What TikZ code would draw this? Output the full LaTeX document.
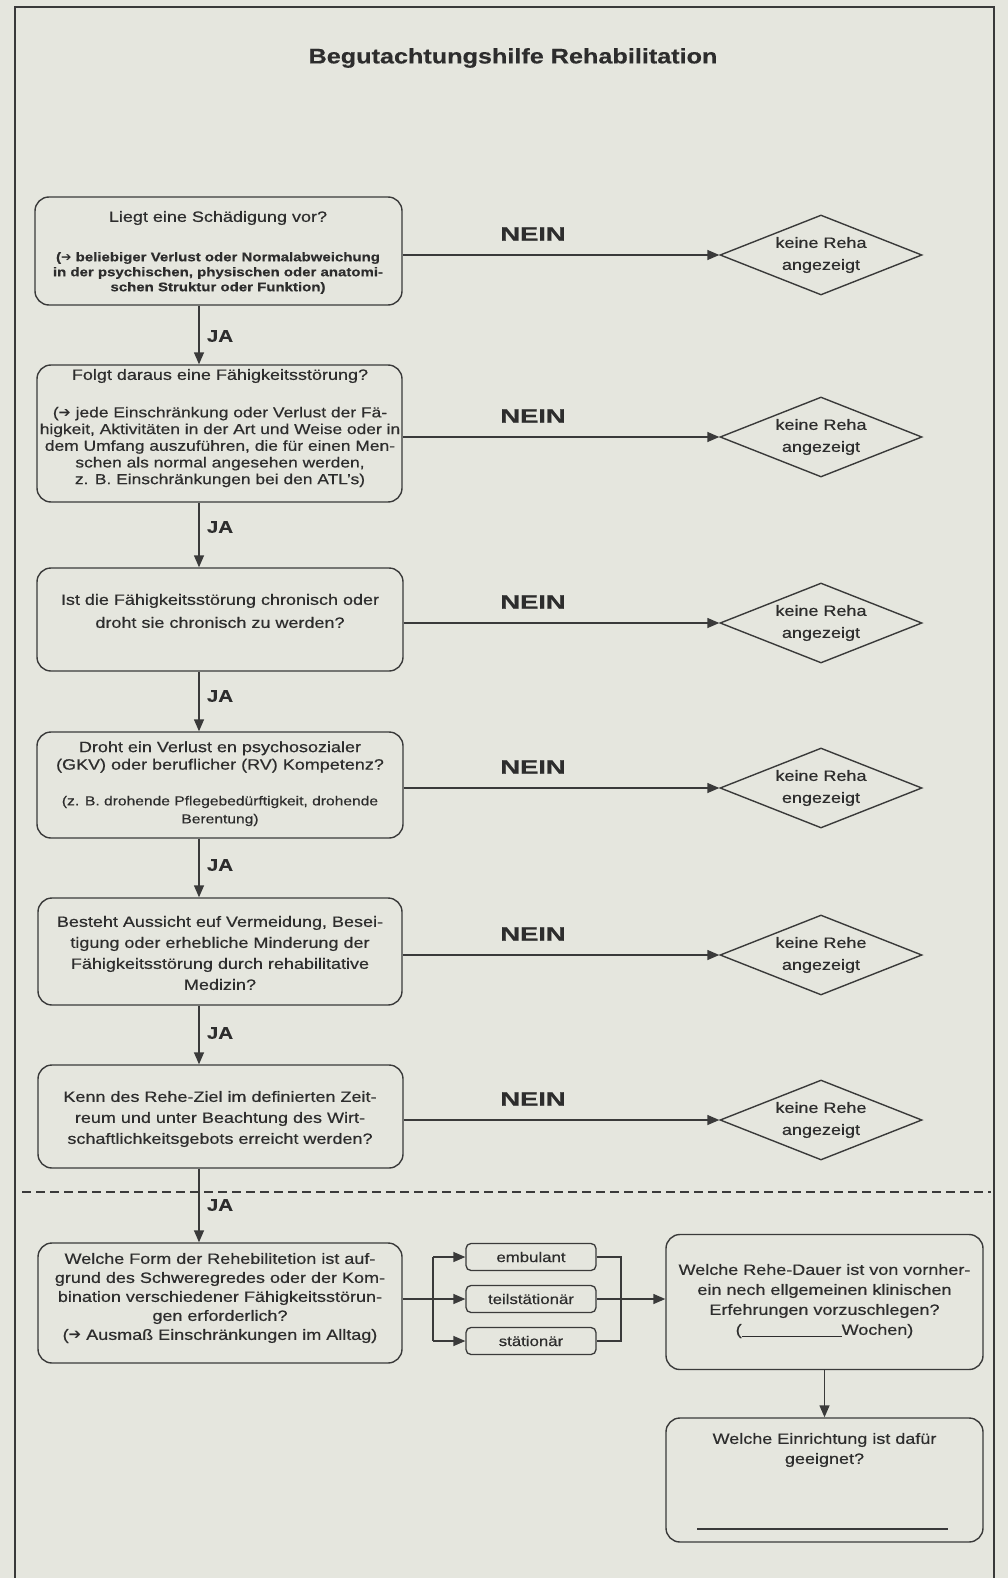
\documentclass[tikz,border=0pt]{standalone}
\usepackage{fontspec}
\setmainfont{Liberation Sans}[FakeStretch=1.2,FakeBold=0.5]
\newfontfamily\widefont{Liberation Sans}[FakeStretch=1.4,FakeBold=0.5]
\newfontfamily\symfont{DejaVu Sans}
\newcommand{\rarr}{{\symfont ➔}}
\usetikzlibrary{arrows.meta,shapes.geometric,calc}
\definecolor{paper}{RGB}{229,230,222}
\definecolor{ink}{RGB}{58,58,58}
\definecolor{txt}{RGB}{45,45,45}
\begin{document}
\begin{tikzpicture}[x=1pt,y=-1pt,
  box/.style={draw=ink, line width=1.4pt, rounded corners=14pt, inner sep=0pt},
  sbox/.style={draw=ink, line width=1.3pt, rounded corners=5pt, inner sep=0pt,
    minimum width=130pt, minimum height=27pt, text=txt, font=\fontsize{14}{16}\selectfont},
  dia/.style={shape=diamond, draw=ink, line width=1.4pt, aspect=2.5, inner sep=0pt,
    minimum width=202pt, minimum height=80pt, align=center, text=txt,
    font=\fontsize{15}{22}\selectfont},
  tx/.style={align=center, text=txt, inner sep=0pt},
  ln/.style={draw=ink, line width=1.4pt},
  arr/.style={draw=ink, line width=1.4pt, -{Triangle[length=12pt,width=10pt]}},
  nein/.style={text=txt, inner sep=0pt, font=\widefont\bfseries\fontsize{19.5}{22}\selectfont},
  ja/.style={text=txt, inner sep=0pt, font=\bfseries\fontsize{17}{20}\selectfont}
]
\useasboundingbox (0,0) rectangle (1008,1578);
\fill[paper] (0,0) rectangle (1008,1578);
\draw[ink, line width=2.5pt] (15,7) rectangle (994,1600);

\node[tx, font=\bfseries\fontsize{21}{24}\selectfont] (title) at (513,58) {Begutachtungshilfe Rehabilitation};

% boxes
\node[box, minimum width=367pt, minimum height=108pt] (b1) at (218.5,251) {};
\node[box, minimum width=365pt, minimum height=137pt] (b2) at (219.5,433.5) {};
\node[box, minimum width=366pt, minimum height=103pt] (b3) at (220,619.5) {};
\node[box, minimum width=366pt, minimum height=106pt] (b4) at (220,785) {};
\node[box, minimum width=364pt, minimum height=107pt] (b5) at (220,951.5) {};
\node[box, minimum width=365pt, minimum height=103pt] (b6) at (220.5,1116.5) {};
\node[box, minimum width=364pt, minimum height=120pt] (b7) at (220,1303) {};

% box texts
\node[tx, font=\fontsize{15}{18}\selectfont] (b1q) at (218,218) {Liegt eine Schädigung vor?};
\node[tx, font=\bfseries\fontsize{12.5}{15}\selectfont] (b1s) at (218,273)
  {(\rarr\ beliebiger Verlust oder Normalabweichung\\in der psychischen, physischen oder anatomi-\\schen Struktur oder Funktion)};
\node[tx, font=\fontsize{15}{18}\selectfont] (b2q) at (220,376) {Folgt daraus eine Fähigkeitsstörung?};
\node[tx, font=\fontsize{14.5}{16.7}\selectfont] (b2s) at (220,447)
  {(\rarr\ jede Einschränkung oder Verlust der Fä-\\higkeit, Aktivitäten in der Art und Weise oder in\\dem Umfang auszuführen, die für einen Men-\\schen als normal angesehen werden,\\z. B. Einschränkungen bei den ATL's)};
\node[tx, font=\fontsize{15}{23}\selectfont] (b3t) at (220,611)
  {Ist die Fähigkeitsstörung chronisch oder\\droht sie chronisch zu werden?};
\node[tx, font=\fontsize{15}{17.5}\selectfont] (b4q) at (220,757)
  {Droht ein Verlust en psychosozialer\\(GKV) oder beruflicher (RV) Kompetenz?};
\node[tx, font=\fontsize{13}{18}\selectfont] (b4s) at (220,811)
  {(z. B. drohende Pflegebedürftigkeit, drohende\\Berentung)};
\node[tx, font=\fontsize{15}{21}\selectfont] (b5t) at (220,953)
  {Besteht Aussicht euf Vermeidung, Besei-\\tigung oder erhebliche Minderung der\\Fähigkeitsstörung durch rehabilitative\\Medizin?};
\node[tx, font=\fontsize{15}{21}\selectfont] (b6t) at (220,1119)
  {Kenn des Rehe-Ziel im definierten Zeit-\\reum und unter Beachtung des Wirt-\\schaftlichkeitsgebots erreicht werden?};
\node[tx, font=\fontsize{15}{19}\selectfont] (b7t) at (220,1298)
  {Welche Form der Rehebilitetion ist auf-\\grund des Schweregredes oder der Kom-\\bination verschiedener Fähigkeitsstörun-\\gen erforderlich?\\(\rarr\ Ausmaß Einschränkungen im Alltag)};

% diamonds
\node[dia] (d1) at (821,255) {keine Reha\\angezeigt};
\node[dia] (d2) at (821,437) {keine Reha\\angezeigt};
\node[dia] (d3) at (821,623) {keine Reha\\angezeigt};
\node[dia] (d4) at (821,788) {keine Reha\\engezeigt};
\node[dia] (d5) at (821,955) {keine Rehe\\angezeigt};
\node[dia] (d6) at (821,1120) {keine Rehe\\angezeigt};

\foreach \i/\y in {1/255,2/437,3/623,4/788,5/955,6/1120}{
  \draw[arr] (d\i.west -| b\i.east) -- (d\i.west);
  \node[nein] (n\i) at (533,\y-21) {NEIN};
}

% JA arrows
\coordinate (ax) at (199,0);
\draw[arr] (b1.south -| ax) -- (b2.north -| ax);
\draw[arr] (b2.south -| ax) -- (b3.north -| ax);
\draw[arr] (b3.south -| ax) -- (b4.north -| ax);
\draw[arr] (b4.south -| ax) -- (b5.north -| ax);
\draw[arr] (b5.south -| ax) -- (b6.north -| ax);
\draw[arr] (b6.south -| ax) -- (b7.north -| ax);
\node[ja] (j1) at (220,336) {JA};
\node[ja] (j2) at (220,527) {JA};
\node[ja] (j3) at (220,696) {JA};
\node[ja] (j4) at (220,865) {JA};
\node[ja] (j5) at (220,1033) {JA};
\node[ja] (j6) at (220,1205) {JA};

% dashed separator
\coordinate (dl) at (22,1192);
\coordinate (dr) at (991,1192);
\draw[ink, line width=1.2pt, dash pattern=on 9pt off 5pt] (dl) -- (dr);

% form boxes
\node[sbox] (emb) at (531,1257) {embulant};
\node[sbox] (teil) at (531,1299) {teilstätionär};
\node[sbox] (stat) at (531,1341) {stätionär};
\coordinate (lb) at (433,0);
\coordinate (rb) at (621,0);
\draw[arr] (teil.west -| b7.east) -- (teil.west);
\draw[ln] (lb |- emb) -- (lb |- stat);
\draw[arr] (lb |- emb) -- (emb.west);
\draw[arr] (lb |- stat) -- (stat.west);
\draw[ln] (emb.east) -- (rb |- emb) -- (rb |- stat) -- (stat.east);

\node[box, minimum width=317pt, minimum height=135pt] (dauer) at (824.5,1302) {};
\node[tx, font=\fontsize{15}{20}\selectfont] (dauert) at (824.5,1301)
  {Welche Rehe-Dauer ist von vornher-\\ein nech ellgemeinen klinischen\\Erfehrungen vorzuschlegen?\\(\rule[-1.5pt]{100pt}{0.8pt}Wochen)};
\draw[arr] (teil.east) -- (teil.east -| dauer.west);

\node[box, minimum width=317pt, minimum height=124pt] (ein) at (824.5,1480) {};
\node[tx, font=\fontsize{15}{20}\selectfont] (eint) at (824.5,1450)
  {Welche Einrichtung ist dafür\\geeignet?};
\coordinate (u1) at (697,1529);
\coordinate (u2) at (948,1529);
\draw[ln] (u1) -- (u2);
\draw[arr] (dauer.south) -- (ein.north);
\end{tikzpicture}
\end{document}
